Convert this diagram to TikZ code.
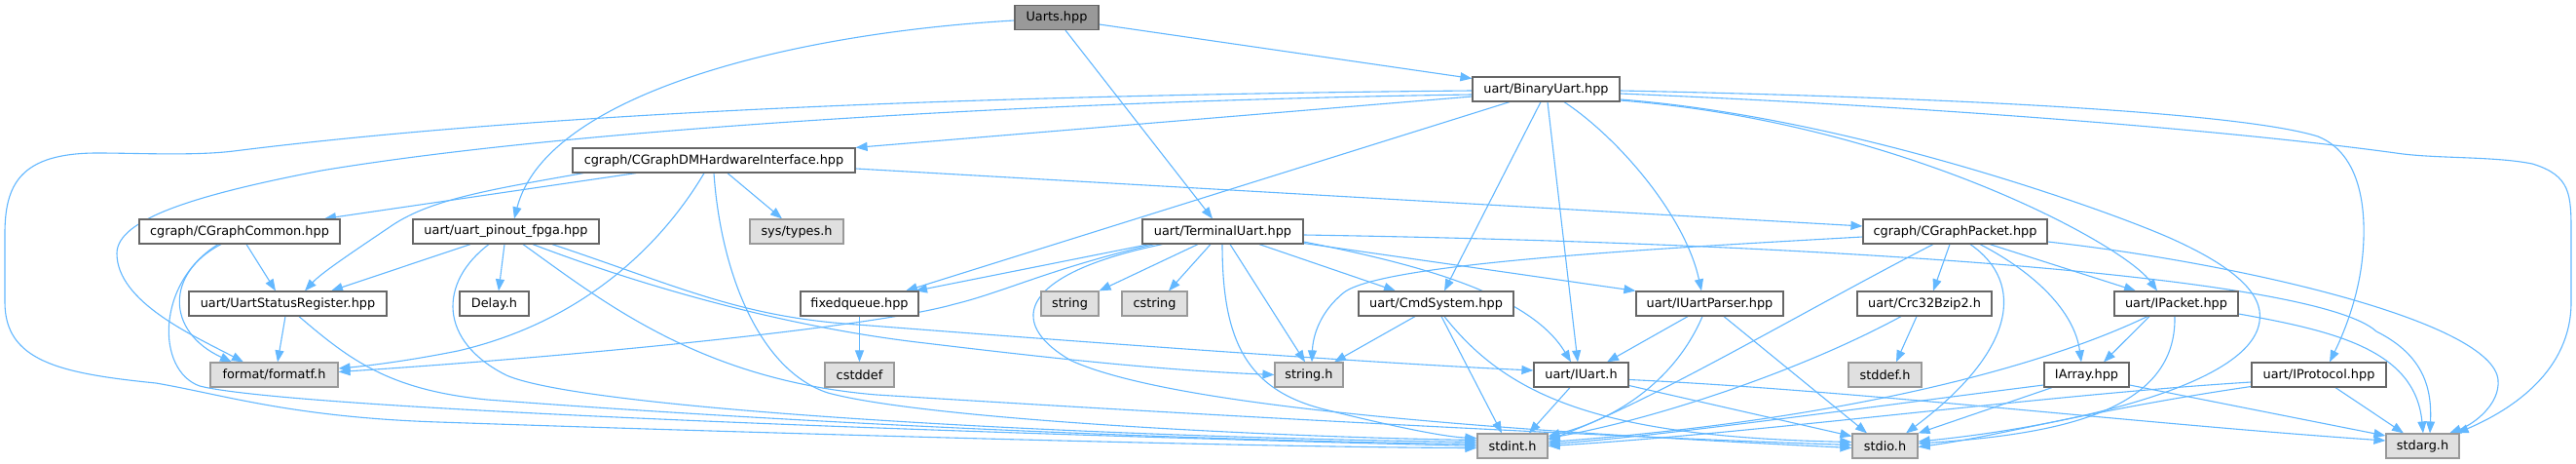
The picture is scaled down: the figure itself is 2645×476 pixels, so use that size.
\documentclass[tikz,border=0pt]{standalone}
\usepackage{fontspec}
\setmainfont{DejaVu Sans}
\usetikzlibrary{arrows.meta}
\definecolor{edgec}{HTML}{63B8FF}
\definecolor{nbord}{HTML}{666666}
\definecolor{xbord}{HTML}{999999}
\definecolor{xfill}{HTML}{E0E0E0}
\definecolor{rfill}{HTML}{999999}
\pgfdeclarelayer{bg}
\pgfsetlayers{bg,main}
\tikzset{
  nd/.style={draw=nbord, fill=white, line width=1.2pt, minimum height=25pt, inner sep=0pt,
    font=\fontsize{12.85}{15}\selectfont, text=black},
  xnd/.style={nd, draw=xbord, fill=xfill},
  rnd/.style={nd, draw=nbord, fill=rfill},
  inc/.style={draw=edgec, line width=1.1pt, -{Triangle[length=12pt,width=9pt]}},
}
\begin{document}
\begin{tikzpicture}[x=1pt,y=-1pt]
\useasboundingbox (0,0) rectangle (2645,476);

% nodes
\node[rnd, minimum width=86pt]  (uarts)     at (1085,18)    {Uarts.hpp};
\node[nd,  minimum width=151pt] (binary)    at (1587.5,91.5) {uart/BinaryUart.hpp};
\node[nd,  minimum width=290pt] (cgdm)      at (733,164.5)  {cgraph/CGraphDMHardwareInterface.hpp};
\node[nd,  minimum width=206pt] (cgcommon)  at (246,237.5)  {cgraph/CGraphCommon.hpp};
\node[nd,  minimum width=191pt] (pinout)    at (519.5,237.5) {uart/uart\_pinout\_fpga.hpp};
\node[xnd, minimum width=96pt]  (systypes)  at (818,237.5)  {sys/types.h};
\node[nd,  minimum width=165pt] (terminal)  at (1255.5,237.5) {uart/TerminalUart.hpp};
\node[nd,  minimum width=189pt] (cgpacket)  at (2007.5,237.5) {cgraph/CGraphPacket.hpp};
\node[nd,  minimum width=203pt] (usr)       at (295.5,311.5) {uart/UartStatusRegister.hpp};
\node[nd,  minimum width=71pt]  (delay)     at (507.5,311.5) {Delay.h};
\node[nd,  minimum width=121pt] (fixedq)    at (882.5,311.5) {fixedqueue.hpp};
\node[xnd, minimum width=59pt]  (string)    at (1098.5,311.5) {string};
\node[xnd, minimum width=67pt]  (cstring)   at (1185.5,311.5) {cstring};
\node[nd,  minimum width=159pt] (cmd)       at (1474.5,311.5) {uart/CmdSystem.hpp};
\node[nd,  minimum width=151pt] (parser)    at (1755.5,311.5) {uart/IUartParser.hpp};
\node[nd,  minimum width=138pt] (crc)       at (1976,311.5)  {uart/Crc32Bzip2.h};
\node[nd,  minimum width=127pt] (ipacket)   at (2234.5,311.5) {uart/IPacket.hpp};
\node[xnd, minimum width=131pt] (formatf)   at (281.5,384.5) {format/formatf.h};
\node[xnd, minimum width=71pt]  (cstddef)   at (882.5,384.5) {cstddef};
\node[xnd, minimum width=70pt]  (stringh)   at (1344,384.5)  {string.h};
\node[nd,  minimum width=97pt]  (iuart)     at (1623.5,384.5) {uart/IUart.h};
\node[xnd, minimum width=75pt]  (stddef)    at (1935.5,384.5) {stddef.h};
\node[nd,  minimum width=87pt]  (iarray)    at (2142.5,384.5) {IArray.hpp};
\node[nd,  minimum width=138pt] (iprotocol) at (2381,384.5)  {uart/IProtocol.hpp};
\node[xnd, minimum width=72pt]  (stdint)    at (1553,457.5)  {stdint.h};
\node[xnd, minimum width=67pt]  (stdio)     at (1935.5,457.5) {stdio.h};
\node[xnd, minimum width=75pt]  (stdarg)    at (2487.5,457.5) {stdarg.h};

\begin{pgfonlayer}{bg}
\fill[white] (0,0) rectangle (2645,476);

% ---- Uarts.hpp ----
\draw[inc] ([yshift=-3pt]uarts.west) .. controls (800,35) and (560,100) .. ([xshift=8.5pt]pinout.north);
\draw[inc] ([xshift=9pt]uarts.south) -- ([xshift=-10.5pt]terminal.north);
\draw[inc] ([yshift=-7pt]uarts.east) -- ([yshift=11pt]binary.west);

% ---- BinaryUart ----
\draw[inc] ([yshift=-7.5pt]binary.west) -- (cgdm.north east);
\draw[inc] ([yshift=-5.5pt]binary.west) .. controls (1100,103) and (600,130) .. (330,175)
  .. controls (200,200) and (120,225) .. (120,260) .. controls (120,310) and (200,345) .. ([xshift=-31.5pt]formatf.north);
\draw[inc] ([yshift=-1.5pt]binary.west) .. controls (1100,97) and (600,110) .. (240,155)
  .. controls (200,160) and (140,157) .. (100,157) .. controls (20,157) and (5,190) .. (5,240) -- (5,310)
  .. controls (5,370) and (60,383) .. (160,393) .. controls (230,405) and (300,428) .. (450,433)
  .. controls (800,445) and (1300,459) .. ([yshift=-2pt]stdint.west);
\draw[inc] ([xshift=-37.5pt]binary.south) -- ([xshift=47.5pt]fixedq.north);
\draw[inc] ([xshift=-5.5pt]binary.south) -- ([xshift=8.5pt]cmd.north);
\draw[inc] ([xshift=1.5pt]binary.south) -- ([xshift=-3.5pt]iuart.north);
\draw[inc] ([xshift=18.5pt]binary.south) .. controls (1660,140) and (1730,220) .. ([xshift=-8.5pt]parser.north);
\draw[inc] ([yshift=-1.5pt]binary.east) .. controls (2000,100) and (2300,115) .. (2380,140)
  .. controls (2430,160) and (2430,230) .. (2425,270) .. controls (2420,310) and (2405,345) .. ([xshift=11pt]iprotocol.north);
\draw[inc] ([yshift=-4.5pt]binary.east) .. controls (2000,110) and (2300,135) .. (2460,157)
  .. controls (2500,163) and (2560,160) .. (2600,168) .. controls (2640,180) and (2640,200) .. (2640,240) -- (2640,310)
  .. controls (2640,380) and (2580,420) .. ([xshift=-3pt]stdarg.north east);
\draw[inc] ([yshift=-10.5pt]binary.east) .. controls (1900,120) and (2170,218) .. (2230,245)
  .. controls (2290,272) and (2325,300) .. (2320,330) .. controls (2310,400) and (2100,440) .. ([yshift=4.5pt]stdio.east);
\draw[inc] ([yshift=-11.5pt]binary.east) .. controls (1950,125) and (2180,250) .. ([xshift=-19.5pt]ipacket.north);

% ---- CGraphDMHardwareInterface ----
\draw[inc] ([xshift=-80pt]cgdm.south) -- ([xshift=87pt]cgcommon.north);
\draw[inc] ([xshift=-134pt]cgdm.south) .. controls (500,195) and (440,205) .. (400,233)
  .. controls (360,260) and (330,280) .. ([xshift=17.5pt]usr.north);
\draw[inc] ([xshift=-10pt]cgdm.south) .. controls (680,250) and (600,330) .. (470,360)
  .. controls (420,370) and (380,375) .. ([yshift=6.5pt]formatf.east);
\draw[inc] ([xshift=14pt]cgdm.south) -- ([xshift=-15pt]systypes.north);
\draw[inc] (cgdm.south) .. controls (740,280) and (780,380) .. (850,403)
  .. controls (950,430) and (1300,448) .. ([yshift=6pt]stdint.west);
\draw[inc] ([yshift=-8.5pt]cgdm.east) -- ([yshift=5.5pt]cgpacket.west);

% ---- CGraphCommon ----
\draw[inc] ([xshift=7pt]cgcommon.south) -- ([xshift=-12.5pt]usr.north);
\draw[inc] ([xshift=-19pt]cgcommon.south) .. controls (170,280) and (170,340) .. ([xshift=-43.5pt]formatf.north);
\draw[inc] ([xshift=-22pt]cgcommon.south) .. controls (160,290) and (160,380) .. (205,396)
  .. controls (300,420) and (1000,445) .. (stdint.west);

% ---- UartStatusRegister ----
\draw[inc] ([xshift=-2.5pt]usr.south) -- ([xshift=3.5pt]formatf.north);
\draw[inc] ([xshift=11.5pt]usr.south) .. controls (360,370) and (400,400) .. (500,410)
  .. controls (900,440) and (1300,453) .. ([yshift=2pt]stdint.west);

% ---- uart_pinout_fpga ----
\draw[inc] ([xshift=-36.5pt]pinout.south) -- ([xshift=44.5pt]usr.north);
\draw[inc] ([xshift=-1.5pt]pinout.south) -- ([xshift=4.5pt]delay.north);
\draw[inc] ([xshift=-17.5pt]pinout.south) .. controls (450,290) and (450,350) .. (520,385)
  .. controls (600,420) and (1100,448) .. ([yshift=4pt]stdint.west);
\draw[inc] ([xshift=17.5pt]pinout.south) .. controls (620,310) and (720,390) .. (900,405)
  .. controls (1300,430) and (1700,450) .. ([yshift=1pt]stdio.west);
\draw[inc] ([xshift=27.5pt]pinout.south) .. controls (650,290) and (800,335) .. (950,352)
  .. controls (1100,370) and (1200,380) .. (stringh.west);
\draw[inc] ([xshift=47.5pt]pinout.south) .. controls (700,295) and (760,325) .. (880,333)
  .. controls (1100,350) and (1400,372) .. ([yshift=4.5pt]iuart.west);

% ---- TerminalUart ----
\draw[inc] ([xshift=-75.5pt]terminal.south) -- ([xshift=57.5pt]fixedq.north);
\draw[inc] ([xshift=-70.5pt]terminal.south) .. controls (1080,275) and (1030,300) .. (980,312)
  .. controls (900,335) and (600,365) .. ([yshift=3pt]formatf.east);
\draw[inc] ([xshift=-62pt]terminal.south) .. controls (1050,280) and (1030,330) .. (1100,370)
  .. controls (1200,415) and (1500,440) .. ([yshift=-2pt]stdio.west);
\draw[inc] ([xshift=-25.5pt]terminal.south) -- (string.north east);
\draw[inc] ([xshift=-12.5pt]terminal.south) -- ([xshift=14.5pt]cstring.north);
\draw[inc] ([xshift=-0.5pt]terminal.south) .. controls (1255,350) and (1280,400) .. (1360,420)
  .. controls (1420,435) and (1480,448) .. ([yshift=8pt]stdint.west);
\draw[inc] ([xshift=7.5pt]terminal.south) -- ([xshift=-4pt]stringh.north);
\draw[inc] ([xshift=37.5pt]terminal.south) -- ([xshift=-41.5pt]cmd.north);
\draw[inc] ([yshift=-10.5pt]terminal.east) .. controls (1450,270) and (1570,300) .. ([xshift=-10.5pt]iuart.north);
\draw[inc] ([yshift=-12pt]terminal.east) -- (parser.north west);
\draw[inc] ([yshift=-3.5pt]terminal.east) .. controls (1900,250) and (2380,285) .. (2440,340)
  .. controls (2490,365) and (2497,400) .. ([xshift=7.5pt]stdarg.north);

% ---- CGraphPacket ----
\draw[inc] ([yshift=-5.5pt]cgpacket.west) .. controls (1700,255) and (1420,270) .. (1380,300)
  .. controls (1355,320) and (1348,345) .. ([xshift=3pt]stringh.north);
\draw[inc] ([xshift=-22.5pt]cgpacket.south) .. controls (1850,320) and (1700,410) .. ([yshift=6pt]stdint.east);
\draw[inc] ([xshift=-5.5pt]cgpacket.south) -- ([xshift=9pt]crc.north);
\draw[inc] ([xshift=15.5pt]cgpacket.south) .. controls (2080,290) and (2070,360) .. ([xshift=21.5pt]stdio.north);
\draw[inc] ([xshift=25.5pt]cgpacket.south) .. controls (2090,280) and (2130,320) .. ([xshift=-5.5pt]iarray.north);
\draw[inc] ([xshift=35.5pt]cgpacket.south) -- ([xshift=-41.5pt]ipacket.north);
\draw[inc] ([yshift=-10.5pt]cgpacket.east) .. controls (2300,270) and (2560,330) .. (2565,390)
  .. controls (2567,415) and (2540,435) .. ([xshift=27.5pt]stdarg.north);

% ---- CmdSystem ----
\draw[inc] ([xshift=-21.5pt]cmd.south) -- ([xshift=26pt]stringh.north);
\draw[inc] ([xshift=5.5pt]cmd.south) -- ([xshift=-11pt]stdint.north);
\draw[inc] ([xshift=8.5pt]cmd.south) .. controls (1550,410) and (1650,448) .. ([yshift=4pt]stdio.west);

% ---- IUartParser ----
\draw[inc] ([xshift=-22.5pt]parser.south) -- ([xshift=26.5pt]iuart.north);
\draw[inc] ([xshift=-7.5pt]parser.south) .. controls (1720,390) and (1660,430) .. ([yshift=10pt]stdint.east);
\draw[inc] ([xshift=14.5pt]parser.south) -- ([xshift=-18.5pt]stdio.north);

% ---- IUart ----
\draw[inc] ([xshift=-11.5pt]iuart.south) -- ([xshift=17pt]stdint.north);
\draw[inc] ([yshift=-11pt]iuart.east) -- ([yshift=10pt]stdio.west);
\draw[inc] ([yshift=-5pt]iuart.east) .. controls (1900,400) and (2200,435) .. ([yshift=5.5pt]stdarg.west);

% ---- IPacket ----
\draw[inc] ([xshift=-27.5pt]ipacket.south) -- ([xshift=17.5pt]iarray.north);
\draw[inc] ([xshift=-29.5pt]ipacket.south) .. controls (2100,375) and (1900,430) .. ([yshift=4pt]stdint.east);
\draw[inc] ([xshift=-1.5pt]ipacket.south) .. controls (2235,420) and (2120,445) .. ([yshift=2.5pt]stdio.east);
\draw[inc] ([yshift=-10.5pt]ipacket.east) .. controls (2400,340) and (2480,360) .. ([xshift=0.5pt]stdarg.north);

% ---- IArray ----
\draw[inc] ([yshift=-10.5pt]iarray.west) .. controls (1900,420) and (1700,448) .. ([yshift=2pt]stdint.east);
\draw[inc] ([xshift=-35.5pt]iarray.south) -- (stdio.north east);
\draw[inc] ([yshift=-10.5pt]iarray.east) -- ([yshift=10.5pt]stdarg.west);

% ---- IProtocol ----
\draw[inc] ([yshift=-7.5pt]iprotocol.west) .. controls (2100,405) and (1800,445) .. (stdint.east);
\draw[inc] ([yshift=-12pt]iprotocol.west) .. controls (2150,420) and (2050,448) .. ([yshift=-1pt]stdio.east);
\draw[inc] ([xshift=17pt]iprotocol.south) -- ([xshift=-19.5pt]stdarg.north);

% ---- Crc32Bzip2 ----
\draw[inc] ([xshift=-8pt]crc.south) -- ([xshift=11.5pt]stddef.north);
\draw[inc] ([xshift=-24pt]crc.south) .. controls (1850,380) and (1700,430) .. ([yshift=8pt]stdint.east);

% ---- fixedqueue ----
\draw[inc] (fixedq.south) -- (cstddef.north);
\end{pgfonlayer}

\end{tikzpicture}
\end{document}
